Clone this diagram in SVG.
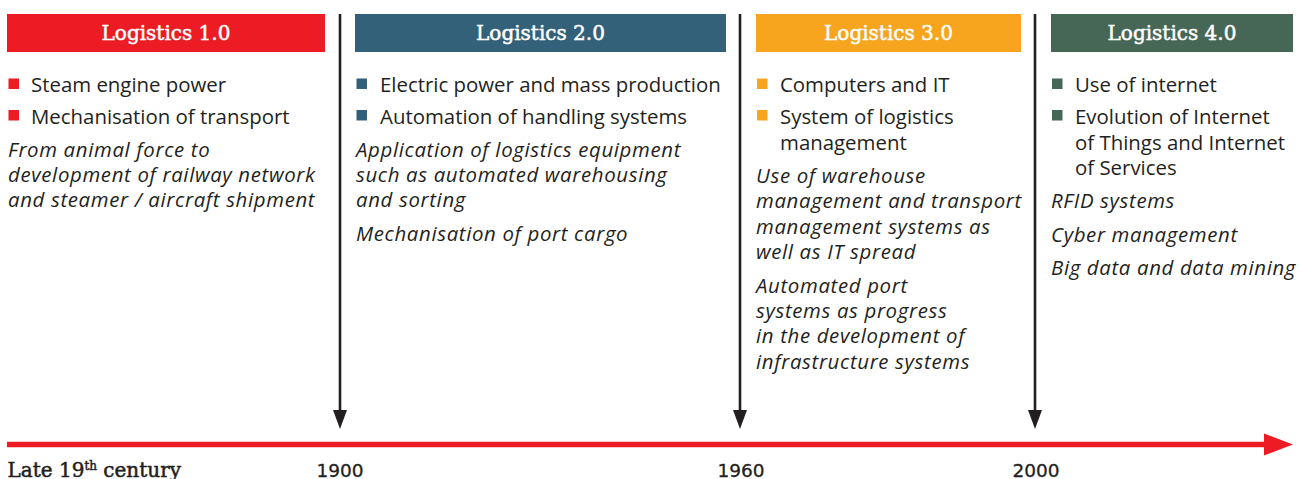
<svg xmlns="http://www.w3.org/2000/svg" width="1301" height="479" viewBox="0 0 1301 479">
  <style>
    .hdr { font-family: "DejaVu Serif", "Liberation Serif", serif; font-size: 20px; fill: #ffffff; stroke: #ffffff; stroke-width: 0.5; text-anchor: middle; }
    .txt { font-family: "Open Sans", "Liberation Sans", sans-serif; font-size: 20.4px; fill: #231f20; }
    .it { font-family: "Open Sans", "Liberation Sans", sans-serif; font-size: 20.4px; font-style: italic; letter-spacing: 0.65px; fill: #231f20; }
    .yr { font-family: "DejaVu Sans", "Liberation Sans", sans-serif; font-size: 18.5px; fill: #231f20; stroke: #231f20; stroke-width: 0.3; text-anchor: middle; }
    .era { font-family: "DejaVu Serif", "Liberation Serif", serif; font-size: 20px; fill: #231f20; stroke: #231f20; stroke-width: 0.5; }
    .vline { stroke: #231f20; stroke-width: 2.6; fill: none; }
    .b1 { fill: #ed1c24; } .b2 { fill: #336179; } .b3 { fill: #f7a51e; } .b4 { fill: #466656; }
  </style>
  <rect width="1301" height="479" fill="#ffffff"/>

  <!-- connectors: period dividers and timeline -->
  <g id="connectors">
    <g fill="#231f20">
      <line class="vline" x1="340" y1="14" x2="340" y2="412"/>
      <path d="M333,410 L347,410 L340,429 Z"/>
      <line class="vline" x1="740" y1="14" x2="740" y2="412"/>
      <path d="M733,410 L747,410 L740,429 Z"/>
      <line class="vline" x1="1035" y1="14" x2="1035" y2="412"/>
      <path d="M1028,410 L1042,410 L1035,429 Z"/>
    </g>
    <line x1="7" y1="444.5" x2="1266" y2="444.5" stroke="#ed1c24" stroke-width="5.5"/>
    <path d="M1264,433.5 L1293,444.5 L1264,455.5 Z" fill="#ed1c24"/>
  </g>

  <!-- Logistics 1.0 -->
  <g id="logistics-1">
    <rect class="b1" x="7" y="14" width="318" height="38"/>
    <text class="hdr" x="166" y="40">Logistics 1.0</text>
    <rect class="b1" x="8.5" y="78.5" width="10.5" height="10.5"/>
    <text class="txt" x="31" y="92">Steam engine power</text>
    <rect class="b1" x="8.5" y="110" width="10.5" height="10.5"/>
    <text class="txt" x="31" y="124">Mechanisation of transport</text>
    <text class="it" x="8" y="157">From animal force to</text>
    <text class="it" x="8" y="182">development of railway network</text>
    <text class="it" x="8" y="207">and steamer / aircraft shipment</text>
  </g>

  <!-- Logistics 2.0 -->
  <g id="logistics-2">
    <rect class="b2" x="355" y="14" width="371" height="38"/>
    <text class="hdr" x="540.5" y="40">Logistics 2.0</text>
    <rect class="b2" x="356.5" y="78.5" width="10.5" height="10.5"/>
    <text class="txt" x="380" y="92">Electric power and mass production</text>
    <rect class="b2" x="356.5" y="110" width="10.5" height="10.5"/>
    <text class="txt" x="380" y="124">Automation of handling systems</text>
    <text class="it" x="356" y="157">Application of logistics equipment</text>
    <text class="it" x="356" y="182">such as automated warehousing</text>
    <text class="it" x="356" y="207">and sorting</text>
    <text class="it" x="356" y="241">Mechanisation of port cargo</text>
  </g>

  <!-- Logistics 3.0 -->
  <g id="logistics-3">
    <rect class="b3" x="756" y="14" width="265" height="38"/>
    <text class="hdr" x="888.5" y="40">Logistics 3.0</text>
    <rect class="b3" x="757" y="78.5" width="10.5" height="10.5"/>
    <text class="txt" x="780" y="92">Computers and IT</text>
    <rect class="b3" x="757" y="110" width="10.5" height="10.5"/>
    <text class="txt" x="780" y="124">System of logistics</text>
    <text class="txt" x="780" y="150">management</text>
    <text class="it" x="756" y="183">Use of warehouse</text>
    <text class="it" x="756" y="208">management and transport</text>
    <text class="it" x="756" y="233.5">management systems as</text>
    <text class="it" x="756" y="259">well as IT spread</text>
    <text class="it" x="756" y="292.5">Automated port</text>
    <text class="it" x="756" y="318">systems as progress</text>
    <text class="it" x="756" y="343">in the development of</text>
    <text class="it" x="756" y="368.5">infrastructure systems</text>
  </g>

  <!-- Logistics 4.0 -->
  <g id="logistics-4">
    <rect class="b4" x="1051" y="14" width="242" height="38"/>
    <text class="hdr" x="1172" y="40">Logistics 4.0</text>
    <rect class="b4" x="1052" y="78.5" width="10.5" height="10.5"/>
    <text class="txt" x="1075" y="92">Use of internet</text>
    <rect class="b4" x="1052" y="110" width="10.5" height="10.5"/>
    <text class="txt" x="1075" y="124">Evolution of Internet</text>
    <text class="txt" x="1075" y="150">of Things and Internet</text>
    <text class="txt" x="1075" y="175">of Services</text>
    <text class="it" x="1051" y="208">RFID systems</text>
    <text class="it" x="1051" y="241.5">Cyber management</text>
    <text class="it" x="1051" y="275">Big data and data mining</text>
  </g>

  <!-- timeline labels -->
  <g id="labels">
    <text class="era" x="7.5" y="476.5">Late 19<tspan font-size="12" dy="-7">th</tspan><tspan dy="7"> century</tspan></text>
    <text class="yr" x="340" y="476.5">1900</text>
    <text class="yr" x="741" y="476.5">1960</text>
    <text class="yr" x="1036" y="476.5">2000</text>
  </g>
</svg>
